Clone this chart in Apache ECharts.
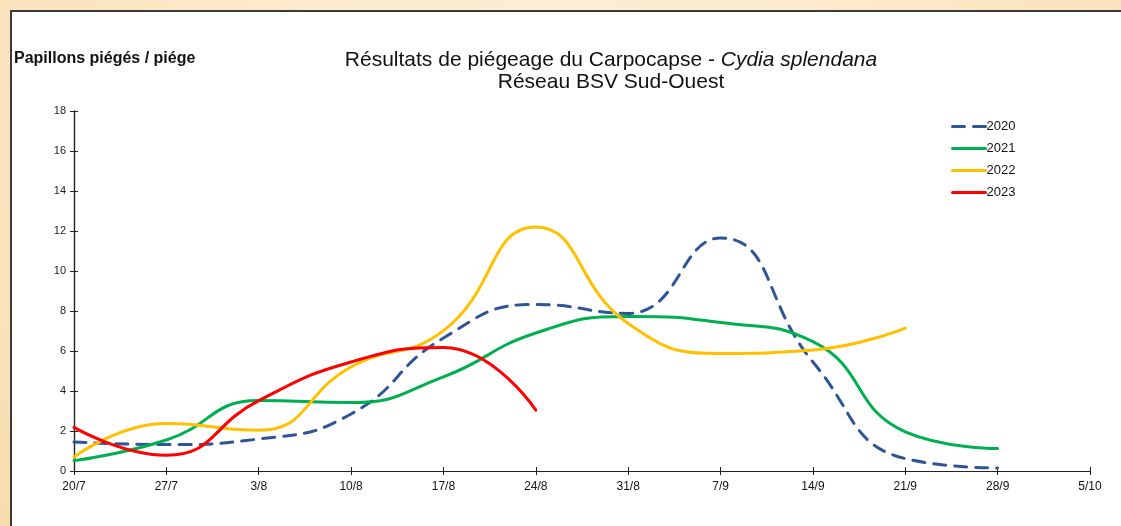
<!DOCTYPE html>
<html>
<head>
<meta charset="utf-8">
<script src="https://cdn.jsdelivr.net/npm/echarts@6/dist/echarts.min.js"></script>
<style>
  html, body { margin: 0; padding: 0; }
  body {
    width: 1121px; height: 526px; overflow: hidden; position: relative;
    background: radial-gradient(ellipse at 50% 20%, #fdf1da 0%, #fbe6c2 60%, #f8dcae 100%);
  }
  #frame {
    position: absolute; left: 10px; top: 10px; width: 1120px; height: 520px;
    background: #fff; border-top: 2px solid #3a3a3a; border-left: 2px solid #3a3a3a;
  }
  #chart { position: absolute; left: 0; top: 0; width: 1121px; height: 526px; }
</style>
</head>
<body>
<div id="frame"></div>
<div id="chart"></div>
<script>
const weeks = ['20/7', '27/7', '3/8', '10/8', '17/8', '24/8', '31/8', '7/9', '14/9', '21/9', '28/9', '5/10']

const y2020 = [1.45, 1.32, 1.6, 2.85, 6.65, 8.33, 7.88, 11.65, 5.45, 0.62, 0.15]
const y2021 = [0.52, 1.55, 3.52, 3.42, 4.71, 6.9, 7.72, 7.42, 6.47, 1.96, 1.12]
const y2022 = [0.7, 2.37, 2.04, 5.2, 7.02, 12.2, 7.38, 5.88, 6.05, 7.14]
const y2023 = [2.18, 0.79, 3.52, 5.45, 6.18, 3.04]

const chart = echarts.init(document.getElementById('chart'))

const axisLine = {lineStyle: {color: '#222', width: 1.2}}

const line = (name, data, color, type) => ({
  name,
  type: 'line',
  data,
  smooth: 0.5,
  symbol: 'none',
  xAxisIndex: 0,
  yAxisIndex: 0,
  lineStyle: {color, width: 3, type: type || 'solid', cap: 'round'},
  itemStyle: {color},
  z: 3
})

const option = {
  animation: false,
  textStyle: {fontFamily: 'Liberation Sans, Arial, sans-serif'},
  title: [{
    text: '{n|Résultats de piégeage du Carpocapse - }{i|Cydia splendana}\n{n|Réseau BSV Sud-Ouest}',
    left: 606,
    top: 44,
    textAlign: 'center',
    textStyle: {
      fontWeight: 'normal',
      rich: {
        n: {fontSize: 21, color: '#111', lineHeight: 22, fontWeight: 'normal', fontFamily: 'Liberation Sans'},
        i: {fontSize: 21, color: '#111', lineHeight: 22, fontWeight: 'normal', fontStyle: 'italic', fontFamily: 'Liberation Sans'}
      }
    }
  }, {
    text: 'Papillons piégés / piége',
    left: 9,
    top: 46,
    textStyle: {fontSize: 16, fontWeight: 'bold', color: '#111', fontFamily: 'Liberation Sans'}
  }],
  legend: {
    orient: 'vertical',
    left: 946,
    top: 115,
    itemWidth: 33,
    itemHeight: 14,
    itemGap: 9,
    itemStyle: {opacity: 0},
    lineStyle: {width: 3},
    textStyle: {fontSize: 13, color: '#111', padding: [0, 0, 0, -4]},
    data: ['2020', '2021', '2022', '2023']
  },
  grid: {left: 74, right: 31, top: 111, bottom: 55},
  xAxis: [{
    type: 'category',
    data: weeks,
    boundaryGap: false,
    axisLine,
    axisTick: {show: true, length: 4, lineStyle: {color: '#222'}},
    axisLabel: {fontSize: 12, color: '#111', margin: 10},
    splitLine: {show: false}
  }, {
    type: 'category',
    data: weeks,
    boundaryGap: false,
    position: 'bottom',
    axisLine,
    axisTick: {show: true, inside: true, length: 4, lineStyle: {color: '#222'}},
    axisLabel: {show: false},
    splitLine: {show: false}
  }],
  yAxis: [{
    type: 'value',
    min: 0,
    max: 18,
    interval: 2,
    axisLine: {show: true, lineStyle: {color: '#222', width: 1.2}},
    axisTick: {show: true, length: 4, lineStyle: {color: '#222'}},
    axisLabel: {fontSize: 11, color: '#222', margin: 8},
    splitLine: {show: false}
  }, {
    type: 'value',
    min: 0,
    max: 18,
    interval: 2,
    position: 'left',
    axisLine: {show: true, lineStyle: {color: '#222', width: 1.2}},
    axisTick: {show: true, inside: true, length: 4, lineStyle: {color: '#222'}},
    axisLabel: {show: false},
    splitLine: {show: false}
  }],
  series: [
    line('2020', y2020, '#2F5597', [12, 9]),
    line('2021', y2021, '#00B050'),
    line('2022', y2022, '#FFC000'),
    line('2023', y2023, '#FF0000')
  ]
}

chart.setOption(option)
</script>
</body>
</html>
